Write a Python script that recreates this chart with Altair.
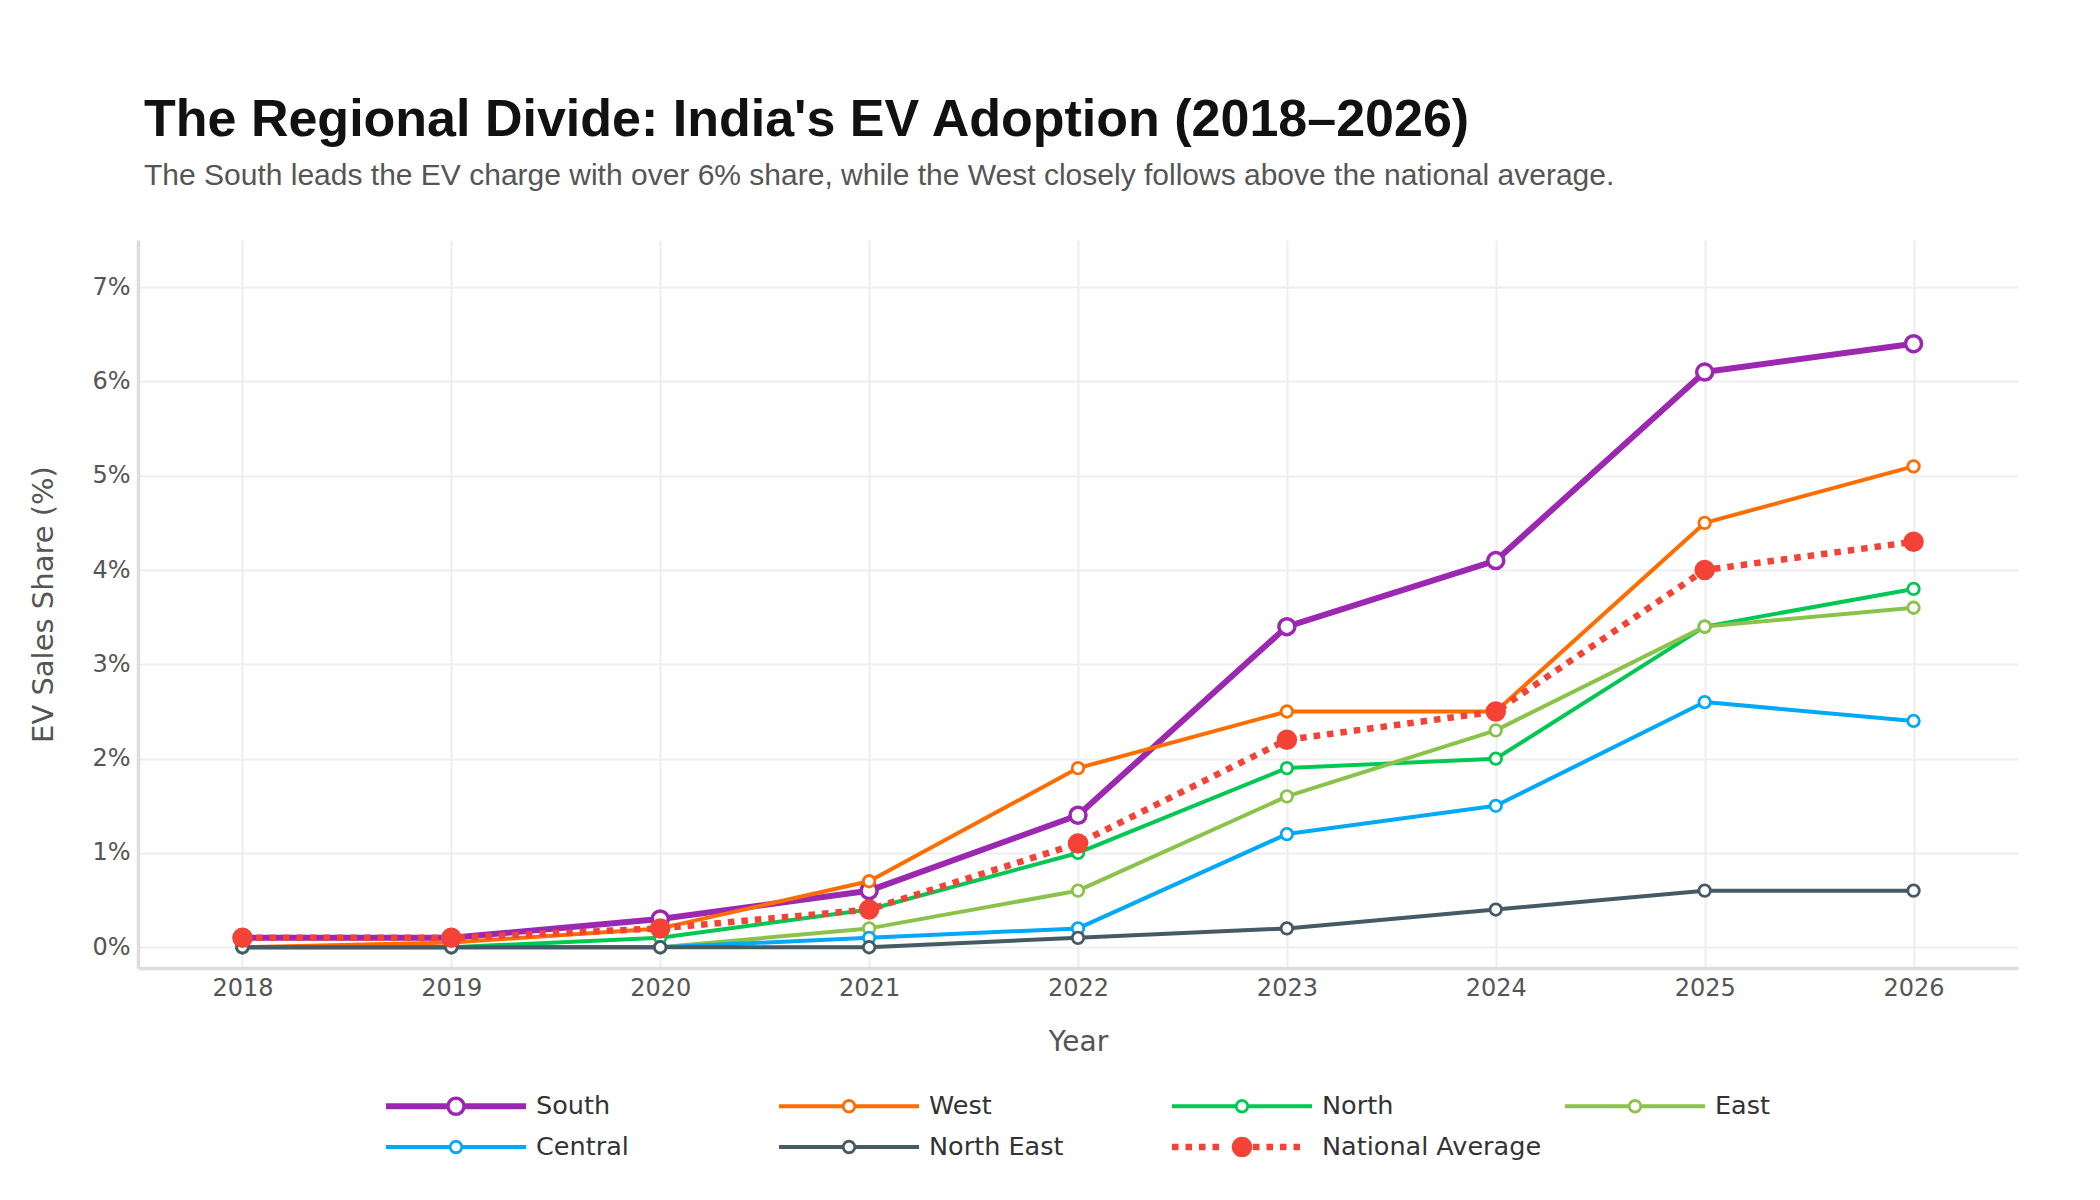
import math
import altair as alt
import pandas as pd

# ---------------- data ----------------
years = [2018, 2019, 2020, 2021, 2022, 2023, 2024, 2025, 2026]
regions = ["South", "West", "North", "East", "Central", "North East", "National Average"]
south = [0.1, 0.1, 0.3, 0.6, 1.4, 3.4, 4.1, 6.1, 6.4]
west = [0.0, 0.05, 0.2, 0.7, 1.9, 2.5, 2.5, 4.5, 5.1]
north = [0.0, 0.0, 0.1, 0.4, 1.0, 1.9, 2.0, 3.4, 3.8]
east = [0.0, 0.0, 0.0, 0.2, 0.6, 1.6, 2.3, 3.4, 3.6]
central = [0.0, 0.0, 0.0, 0.1, 0.2, 1.2, 1.5, 2.6, 2.4]
north_east = [0.0, 0.0, 0.0, 0.0, 0.1, 0.2, 0.4, 0.6, 0.6]
national = [0.1, 0.1, 0.2, 0.4, 1.1, 2.2, 2.5, 4.0, 4.3]
y_ticks = [0, 1, 2, 3, 4, 5, 6, 7]

series = [south, west, north, east, central, north_east, national]
colors = ["#9C27B0", "#FF6D00", "#00C853", "#8BC34A", "#03A9F4", "#455A64", "#F44336"]

rows = []
for name, vals in zip(regions, series):
    for yr, v in zip(years, vals):
        rows.append({"Year": yr, "Region": name, "Share": v})
df = pd.DataFrame(rows)

# ---------------- styles ----------------
AX_FONT = "DejaVu Sans"
line_w = {"South": 6, "National Average": 6.5}
mark_d = {"South": 16, "National Average": 20.5}
mark_sw = {"South": 3.5}
DEFAULT_W, DEFAULT_D, DEFAULT_SW = 4, 11.5, 2.8
DASH = [6.5, 7]

# legend symbol shapes: filled custom SVG paths (unit = sqrt(symbolSize)/2 px)
SYM_SIZE = 784
U = math.sqrt(SYM_SIZE) / 2
SYM_LEN, SYM_CX = 140, 70


def circ(cx, r, reverse=False, n=36):
    pts = []
    for k in range(n):
        a = 2 * math.pi * k / n
        if reverse:
            a = -a
        pts.append(f"{cx + r * math.cos(a):.3f},{r * math.sin(a):.3f}")
    return "M" + "L".join(pts) + "Z"


def rect(a, b, h):
    return f"M{a:.3f},{-h:.3f}L{b:.3f},{-h:.3f}L{b:.3f},{h:.3f}L{a:.3f},{h:.3f}Z"


def ring_symbol(line_px, r_px, sw_px):
    x0 = -1.0
    x1 = x0 + SYM_LEN / U
    cx = x0 + SYM_CX / U
    ro = (r_px + sw_px / 2) / U
    ri = (r_px - sw_px / 2) / U
    h = line_px / 2 / U
    return (rect(x0, cx - ro + 0.02, h) + rect(cx + ro - 0.02, x1, h)
            + circ(cx, ro) + circ(cx, ri, reverse=True))


def dotted_symbol(line_px, r_px, dash_px, period_px):
    x0 = -1.0
    cx = x0 + SYM_CX / U
    r = r_px / U
    h = line_px / 2 / U
    parts = []
    px = 0.0
    while px + dash_px <= SYM_LEN + 0.1:
        a = x0 + px / U
        b = x0 + (px + dash_px) / U
        if b < cx - r or a > cx + r:
            parts.append(rect(a, b, h))
        px += period_px
    parts.append(circ(cx, r))
    return "".join(parts)


sym_paths = {}
for name in regions:
    if name == "National Average":
        sym_paths[name] = dotted_symbol(line_w[name], mark_d[name] / 2, DASH[0], DASH[0] + DASH[1])
    else:
        sym_paths[name] = ring_symbol(line_w.get(name, DEFAULT_W), mark_d.get(name, DEFAULT_D) / 2,
                                      mark_sw.get(name, DEFAULT_SW))

shape_expr = "'" + sym_paths[regions[-1]] + "'"
for name in reversed(regions[:-1]):
    shape_expr = f"datum.value === '{name}' ? '{sym_paths[name]}' : ({shape_expr})"

legend = alt.Legend(
    title=None,
    orient="none",
    legendX=248,
    legendY=852,
    direction="horizontal",
    columns=4,
    gridAlign="all",
    columnPadding=23,
    rowPadding=13,
    padding=0,
    symbolSize=SYM_SIZE,
    symbolType={"expr": shape_expr},
    symbolFillColor={"expr": "scale('color', datum.value)"},
    symbolStrokeWidth=0,
    symbolOpacity=1,
    labelOffset=122,
    labelFont=AX_FONT,
    labelFontSize=25.5,
    labelColor="#333333",
    labelLimit=400,
)

color = alt.Color("Region:N", scale=alt.Scale(domain=regions, range=colors), legend=legend)

x_enc = alt.X(
    "Year:Q",
    scale=alt.Scale(domain=[2017.5, 2026.5], nice=False, zero=False),
    axis=alt.Axis(
        values=years, format="d", title="Year",
        titleFont=AX_FONT, titleFontSize=28, titleFontWeight="normal", titleColor="#555555",
        titlePadding=28,
        labelFont=AX_FONT, labelFontSize=24, labelColor="#555555", labelPadding=8,
        ticks=False, domain=True, domainColor="#dddddd", domainWidth=3.5,
        grid=True, gridColor="#eeeeee", gridWidth=2, labelFlush=False,
    ),
)
y_enc = alt.Y(
    "Share:Q",
    scale=alt.Scale(domain=[-0.22, 7.5], nice=False, zero=False),
    axis=alt.Axis(
        values=y_ticks, labelExpr="datum.value + '%'", title="EV Sales Share (%)",
        titleFont=AX_FONT, titleFontSize=29, titleFontWeight="normal", titleColor="#555555",
        titlePadding=33,
        labelFont=AX_FONT, labelFontSize=24, labelColor="#555555", labelPadding=8,
        ticks=False, domain=True, domainColor="#dddddd", domainWidth=3.5,
        grid=True, gridColor="#eeeeee", gridWidth=2,
    ),
)

base = alt.Chart(df)
layers = []
for name in regions:
    sub = base.transform_filter(alt.datum.Region == name)
    w = line_w.get(name, DEFAULT_W)
    if name == "National Average":
        ln = sub.mark_line(strokeWidth=w, strokeDash=DASH, strokeJoin="round")
        pt = sub.mark_point(shape="circle", filled=True, size=mark_d[name] ** 2, opacity=1, strokeWidth=0)
    else:
        ln = sub.mark_line(strokeWidth=w, strokeJoin="round")
        d = mark_d.get(name, DEFAULT_D)
        pt = sub.mark_point(shape="circle", filled=False, fill="#ffffff", size=d ** 2,
                            strokeWidth=mark_sw.get(name, DEFAULT_SW), opacity=1)
    layers.append(ln.encode(x=x_enc, y=y_enc, color=color))
    layers.append(pt.encode(x=x_enc, y=y_enc, color=color))

chart = alt.layer(*layers).properties(
    width=1880,
    height=728,
    title=alt.TitleParams(
        text="The Regional Divide: India's EV Adoption (2018–2026)",
        subtitle="The South leads the EV charge with over 6% share, while the West closely follows above the national average.",
        anchor="start", frame="group", dx=6, offset=48,
        font="Liberation Sans", fontSize=52, fontWeight="bold", color="#111111",
        subtitleFont="Liberation Sans", subtitleFontSize=30, subtitleColor="#555555",
        subtitlePadding=14,
    ),
    autosize=alt.AutoSizeParams(type="none"),
    padding={"left": 130, "top": 232, "right": 74, "bottom": 224},
    background="#ffffff",
).configure_view(stroke=None)

chart.save("out.html", embed_options={"renderer": "svg", "actions": False})
